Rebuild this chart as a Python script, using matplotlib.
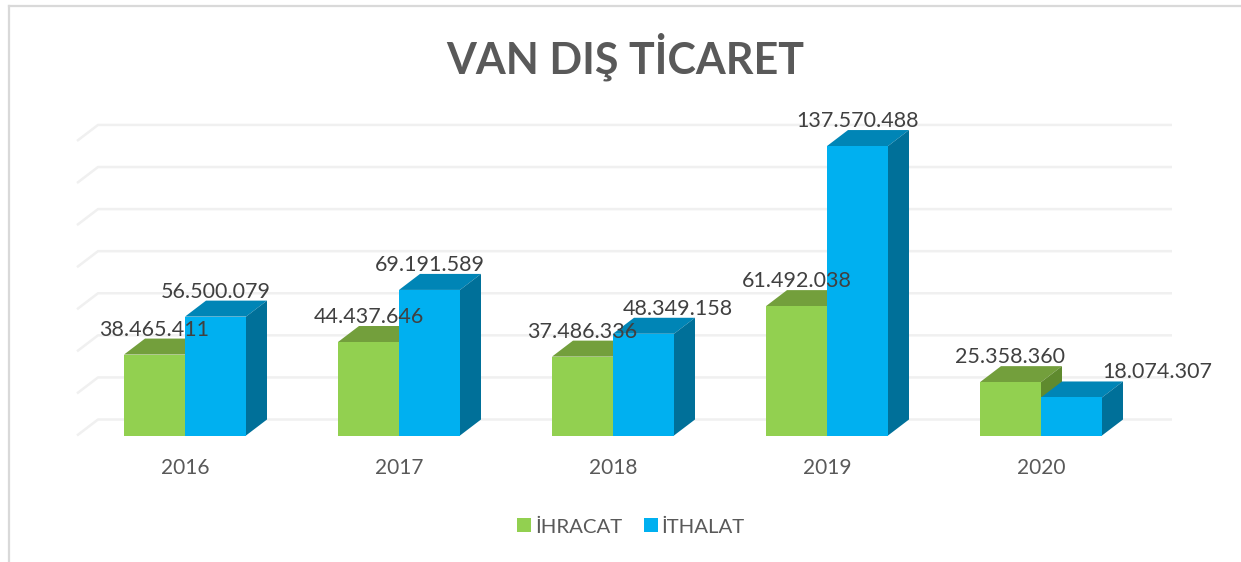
import matplotlib
matplotlib.use('Agg')
import matplotlib.pyplot as plt
from matplotlib.patches import Patch, Polygon

plt.rcParams['font.family'] = ['Lato', 'DejaVu Sans']

years = ['2016', '2017', '2018', '2019', '2020']
ihracat = [38465411, 44437646, 37486336, 61492038, 25358360]
ithalat = [56500079, 69191589, 48349158, 137570488, 18074307]
grid_values = [0, 20, 40, 60, 80, 100, 120, 140]

W, H = 1241, 562
# eksen olcekleri: piksel <-> veri
X0_PX, X_STEP = 185.0, 214.0
Y0_PX, Y_SCALE = 435.5, 2.104
BAR_W = 61.0 / X_STEP
DX = 21.0 / X_STEP
DY = 16.0 / Y_SCALE

GREEN = ('#92D050', '#739F3C', '#5F8A2E')
BLUE = ('#00B0F0', '#0085B6', '#007099')
TEXT = '#404040'
GREY = '#595959'

# elle kaydirilmis ithalat etiketleri (yil indeksi -> yatay kayma, pt)
label_shift = {2: 25, 4: 62}


def px_x(p):
    return (p - X0_PX) / X_STEP


def draw_bar(ax, left, val, cols, z):
    """on yuz, ust ve yan yuzlerle sahte 3B cubuk"""
    r = left + BAR_W
    ax.add_patch(Polygon([(left, val), (r, val), (r + DX, val + DY), (left + DX, val + DY)],
                         facecolor=cols[1], edgecolor='none', zorder=z))
    ax.add_patch(Polygon([(r, 0), (r + DX, DY), (r + DX, val + DY), (r, val)],
                         facecolor=cols[2], edgecolor='none', zorder=z))
    ax.bar(left, val, BAR_W, align='edge', color=cols[0], zorder=z + 0.1)


fig = plt.figure(figsize=(W / 100, H / 100), dpi=100)
ax = fig.add_axes([0, 0, 1, 1])
ax.set_xlim(px_x(0), px_x(W))
ax.set_ylim((Y0_PX - H) / Y_SCALE, Y0_PX / Y_SCALE)
ax.axis('off')

# cerceve
fig.add_artist(plt.Line2D([9 / W, 9 / W], [0, 1 - 5.5 / H], transform=fig.transFigure,
                          color='#D9D9D9', lw=1.6))
fig.add_artist(plt.Line2D([9 / W, 1], [1 - 5.5 / H, 1 - 5.5 / H], transform=fig.transFigure,
                          color='#D9D9D9', lw=1.6))

# izgara cizgileri (arka duvar + sol egik)
for g in grid_values:
    ax.plot([px_x(77), px_x(98), px_x(1172)], [g, g + DY, g + DY],
            color='#F0F0F0', lw=1.8, zorder=1, solid_capstyle='butt')

for i, year in enumerate(years):
    draw_bar(ax, i - BAR_W, ihracat[i] / 1e6, GREEN, 3)
    draw_bar(ax, i, ithalat[i] / 1e6, BLUE, 4)
    ax.text(i, -15.5, year, ha='center', va='center', fontsize=15, color=GREY, zorder=6)

    for left, val, dx_pt in ((i - BAR_W, ihracat[i], 0), (i, ithalat[i], label_shift.get(i, 0))):
        label = f'{val:,}'.replace(',', '.')
        ax.annotate(label, (left + BAR_W / 2, val / 1e6), xytext=(dx_pt, 18), textcoords='offset points',
                    ha='center', va='center', fontsize=15.5, color=TEXT, zorder=7)

ax.text(px_x(625), (Y0_PX - 57) / Y_SCALE, 'VAN DIŞ TİCARET', ha='center', va='center',
        fontsize=31, fontweight='bold', color=GREY)

handles = [Patch(facecolor=GREEN[0], label='İHRACAT'), Patch(facecolor=BLUE[0], label='İTHALAT')]
fig.legend(handles=handles, loc='center', bbox_to_anchor=(631 / W, 1 - 527 / H), ncol=2, frameon=False,
           fontsize=14.7, labelcolor=GREY, handlelength=0.68, handleheight=0.68,
           handletextpad=0.2, columnspacing=1.05)

fig.savefig('out.png', dpi=100, facecolor='white')
